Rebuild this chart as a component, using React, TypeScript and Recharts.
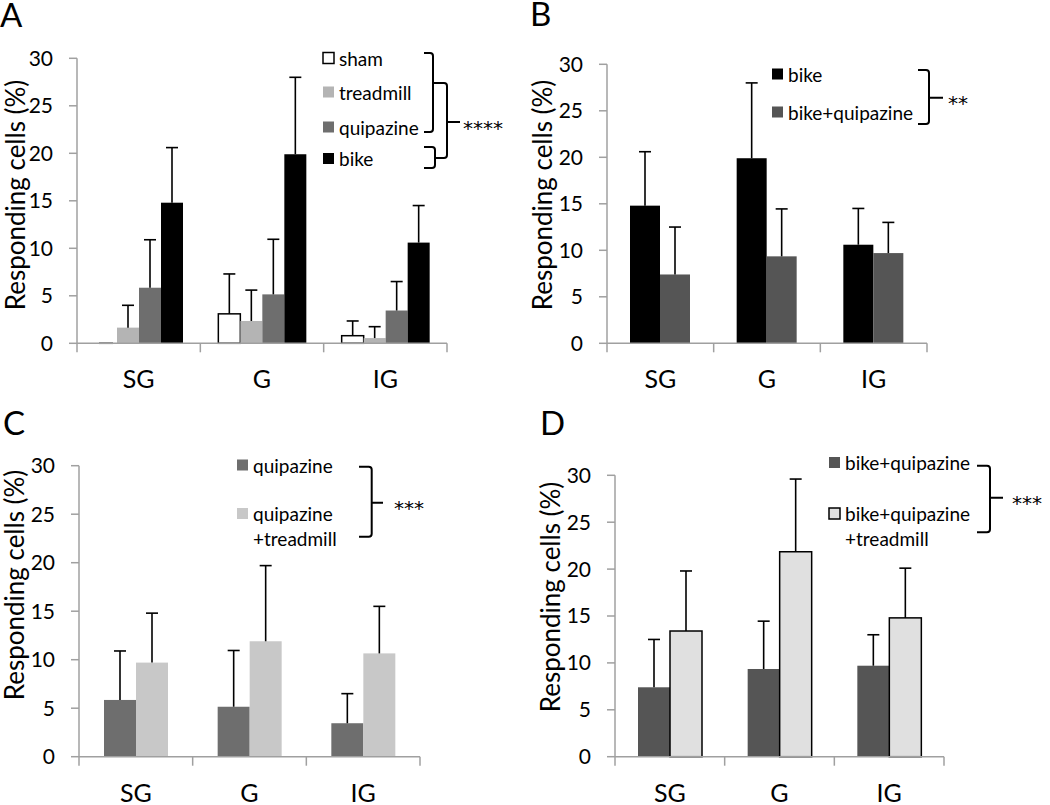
import React from "react";
import { BarChart, Bar, XAxis, YAxis, Legend } from "recharts";

// regions along x
const regions = ["SG", "G", "IG"];

// group means and error (upward bar only), % responding cells
const sham = [0, 3.1, 0.8];
const shamErr = [0, 4.2, 1.55];
const treadmill = [1.65, 2.35, 0.55];
const treadmillErr = [2.35, 3.25, 1.2];
const quipazine = [5.85, 5.15, 3.45];
const quipazineErr = [5.05, 5.8, 3.05];
const bike = [14.8, 19.9, 10.6];
const bikeErr = [5.8, 8.1, 3.9];
const bikeQuip = [7.4, 9.35, 9.7];
const bikeQuipErr = [5.1, 5.1, 3.3];
const quipTread = [9.7, 11.9, 10.65];
const quipTreadErr = [5.1, 7.8, 4.85];
const bikeQuipTread = [13.4, 21.85, 14.8];
const bikeQuipTreadErr = [6.4, 7.75, 5.3];

const yTicks = [0, 5, 10, 15, 20, 25, 30];

const table = regions.map((region, i) => ({
  region,
  sham: sham[i], shamErr: shamErr[i],
  treadmill: treadmill[i], treadmillErr: treadmillErr[i],
  quipazine: quipazine[i], quipazineErr: quipazineErr[i],
  bike: bike[i], bikeErr: bikeErr[i],
  bikeQuip: bikeQuip[i], bikeQuipErr: bikeQuipErr[i],
  quipTread: quipTread[i], quipTreadErr: quipTreadErr[i],
  bikeQuipTread: bikeQuipTread[i], bikeQuipTreadErr: bikeQuipTreadErr[i],
}));

const FONT = "Lato, 'Open Sans', sans-serif";
const AXIS = "#a0a0a0";

type Series = { key: string; lines: string[]; fill: string; stroke?: string };

// bar with its SEM whisker on top, scaled from the bar's own height
function makeShape(key: string, stroke?: string) {
  return (props: any) => {
    const { x, y, width, height, fill, payload } = props;
    const v = payload[key];
    const err = payload[key + "Err"];
    const cx = x + width / 2;
    if (!v || height <= 0) {
      return stroke ? <line x1={x + 4} x2={x + width - 4} y1={y + height} y2={y + height} stroke={stroke} strokeWidth={1.5} /> : <g />;
    }
    const top = y - err * (height / v);
    return (
      <g>
        <rect x={x} y={y} width={width} height={height} fill={fill} stroke={stroke || "none"} strokeWidth={stroke ? 1.5 : 0} />
        {err > 0 && (
          <g stroke="#000" strokeWidth={1.6}>
            <line x1={cx} x2={cx} y1={y} y2={top} />
            <line x1={cx - 6} x2={cx + 6} y1={top} y2={top} />
          </g>
        )}
      </g>
    );
  };
}

function RegionTick(props: any) {
  const { x, y, payload, index, visibleTicksCount, width } = props;
  const half = payload?.offset || width / visibleTicksCount / 2;
  return (
    <g>
      <line x1={x - half} x2={x - half} y1={y} y2={y + 9} stroke={AXIS} strokeWidth={1.5} />
      {index === visibleTicksCount - 1 && (
        <line x1={x + half} x2={x + half} y1={y} y2={y + 9} stroke={AXIS} strokeWidth={1.5} />
      )}
      <text x={x} y={y + 45} textAnchor="middle" fontSize={25} fontFamily={FONT} fill="#000">
        {payload.value}
      </text>
    </g>
  );
}

// "]" shaped bracket, tips pointing left
function sq(tip: number, vx: number, top: number, bottom: number) {
  const r = 3;
  return `M${tip},${top} H${vx - r} Q${vx},${top} ${vx},${top + r} V${bottom - r} Q${vx},${bottom} ${vx - r},${bottom} H${tip}`;
}

type PanelProps = {
  letter: string;
  letterPos: [number, number];
  left: number;
  top: number;
  w: number;
  h: number;
  plot: { l: number; t: number; r: number; b: number };
  barSize: number;
  series: Series[];
  legendX: number;
  legendY: number[];
  lineGap: number;
  brackets: string[];
  stars: string;
  starPos: [number, number];
  labelPos: [number, number];
};

function Panel(p: PanelProps) {
  const overlay = () => (
    <svg width={p.w} height={p.h} style={{ position: "absolute", left: 0, top: 0, overflow: "visible" }}>
      <text x={p.letterPos[0]} y={p.letterPos[1]} fontSize={33} fontFamily={FONT} fill="#000">{p.letter}</text>
      {p.series.map((s, i) => (
        <g key={s.key}>
          <rect x={p.legendX} y={p.legendY[i] - 5.5} width={11} height={11} fill={s.fill}
            stroke={s.stroke || "none"} strokeWidth={s.stroke ? 1.5 : 0} />
          {s.lines.map((ln, j) => (
            <text key={j} x={p.legendX + 16} y={p.legendY[i] + 7.5 + j * p.lineGap} fontSize={19} fontFamily={FONT} fill="#000">{ln}</text>
          ))}
        </g>
      ))}
      {p.brackets.map((d, i) => (
        <path key={i} d={d} fill="none" stroke="#000" strokeWidth={2} />
      ))}
      <text x={p.starPos[0]} y={p.starPos[1]} fontSize={20} fontFamily="'DejaVu Sans', sans-serif" fill="#000">{p.stars}</text>
    </svg>
  );
  return (
    <div style={{ position: "absolute", left: p.left, top: p.top, width: p.w, height: p.h }}>
      <BarChart
        width={p.w}
        height={p.h}
        data={table}
        barGap={0}
        barSize={p.barSize}
        margin={{ top: p.plot.t, right: p.w - p.plot.r, bottom: 0, left: 0 }}
      >
        <XAxis
          dataKey="region"
          interval={0}
          height={p.h - p.plot.b}
          tickLine={false}
          tickSize={0}
          tickMargin={0}
          axisLine={{ stroke: AXIS, strokeWidth: 1.5 }}
          tick={<RegionTick />}
        />
        <YAxis
          type="number"
          domain={[0, 30]}
          ticks={yTicks}
          interval={0}
          width={p.plot.l}
          tickSize={8}
          tickMargin={16}
          axisLine={{ stroke: AXIS, strokeWidth: 1.5 }}
          tickLine={{ stroke: AXIS, strokeWidth: 1.5 }}
          tick={{ fontSize: 21, fontFamily: FONT, fill: "#000" }}
          label={{
            content: () => (
              <text x={p.labelPos[0]} y={p.labelPos[1]} textAnchor="middle" dominantBaseline="central"
                transform={`rotate(-90 ${p.labelPos[0]} ${p.labelPos[1]})`}
                fontSize={26} fontFamily={FONT} fill="#000">
                Responding cells (%)
              </text>
            ),
          }}
        />
        <Legend
          layout="horizontal"
          verticalAlign="middle"
          align="center"
          content={overlay}
          wrapperStyle={{ left: 0, top: 0, width: p.w, height: p.h, pointerEvents: "none" }}
        />
        {p.series.map((s) => (
          <Bar key={s.key} dataKey={s.key} name={s.lines.join(" ")} fill={s.fill} stroke={s.stroke}
            isAnimationActive={false} shape={makeShape(s.key, s.stroke)} />
        ))}
      </BarChart>
    </div>
  );
}

const seriesA: Series[] = [
  { key: "sham", lines: ["sham"], fill: "#ffffff", stroke: "#000" },
  { key: "treadmill", lines: ["treadmill"], fill: "#b4b4b4" },
  { key: "quipazine", lines: ["quipazine"], fill: "#6e6e6e" },
  { key: "bike", lines: ["bike"], fill: "#000000" },
];
const seriesB: Series[] = [
  { key: "bike", lines: ["bike"], fill: "#000000" },
  { key: "bikeQuip", lines: ["bike+quipazine"], fill: "#555555" },
];
const seriesC: Series[] = [
  { key: "quipazine", lines: ["quipazine"], fill: "#6e6e6e" },
  { key: "quipTread", lines: ["quipazine", "+treadmill"], fill: "#c8c8c8" },
];
const seriesD: Series[] = [
  { key: "bikeQuip", lines: ["bike+quipazine"], fill: "#555555" },
  { key: "bikeQuipTread", lines: ["bike+quipazine", "+treadmill"], fill: "#e0e0e0", stroke: "#000" },
];

export default function App() {
  return (
    <div style={{ position: "absolute", left: 0, top: 0, width: 1050, height: 805, background: "#fff", overflow: "hidden" }}>
      <Panel
        letter="A" letterPos={[0, 27]} left={0} top={0} w={525} h={402}
        plot={{ l: 77, t: 58.3, r: 447, b: 343.3 }} barSize={22} series={seriesA}
        legendX={323} legendY={[58, 92, 127, 158.5]} lineGap={25}
        brackets={[
          sq(424, 433, 53, 132),
          sq(424, 435, 147, 168),
          "M433,83 H444 Q447,83 447,86 V155 Q447,158 444,158 H435 M447,122 H460",
        ]}
        stars="****" starPos={[463, 135]} labelPos={[15, 195]}
      />
      <Panel
        letter="B" letterPos={[5, 26]} left={525} top={0} w={525} h={402}
        plot={{ l: 82, t: 64.3, r: 402, b: 343.3 }} barSize={30} series={seriesB}
        legendX={247} legendY={[74, 112]} lineGap={25}
        brackets={[sq(393, 404, 70, 124) + " M404,97.7 H418"]}
        stars="**" starPos={[423, 110]} labelPos={[16.5, 195]}
      />
      <Panel
        letter="C" letterPos={[3, 33]} left={0} top={402} w={525} h={403}
        plot={{ l: 79, t: 63.7, r: 420, b: 354.7 }} barSize={32} series={seriesC}
        legendX={237} legendY={[63, 111.5]} lineGap={25}
        brackets={[sq(359, 371.7, 64.7, 134.7) + " M371.7,100.7 H383"]}
        stars="***" starPos={[394, 113]} labelPos={[14, 183]}
      />
      <Panel
        letter="D" letterPos={[15, 33]} left={525} top={402} w={525} h={403}
        plot={{ l: 90, t: 73.3, r: 419, b: 354.7 }} barSize={32} series={seriesD}
        legendX={304} legendY={[60.5, 111.5]} lineGap={25}
        brackets={[sq(452, 465, 63.7, 130.3) + " M465,95.7 H478"]}
        stars="***" starPos={[487, 108]} labelPos={[25, 195]}
      />
    </div>
  );
}
